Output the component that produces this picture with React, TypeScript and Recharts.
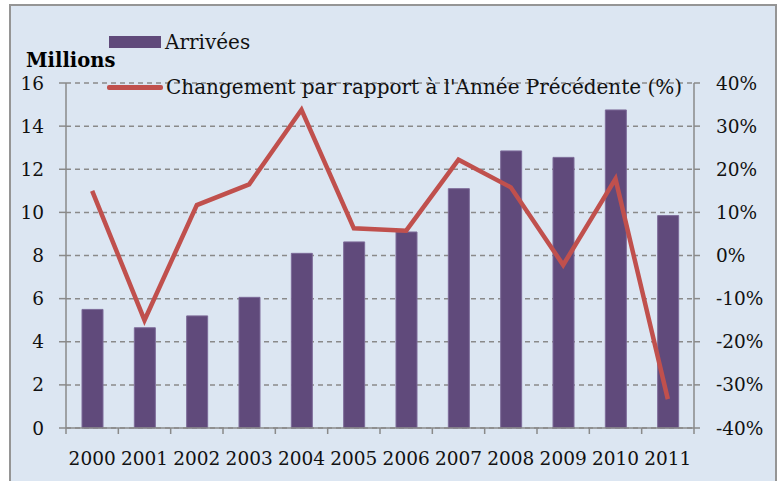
import { ComposedChart, Bar, Line, XAxis, YAxis, CartesianGrid, Legend } from 'recharts'

const years = ['2000', '2001', '2002', '2003', '2004', '2005', '2006', '2007', '2008', '2009', '2010', '2011']
const arrivals = [5.5, 4.65, 5.2, 6.06, 8.1, 8.63, 9.09, 11.1, 12.85, 12.55, 14.75, 9.85]
const changePct = [15.0, -15.0, 11.7, 16.5, 33.8, 6.3, 5.75, 22.2, 15.8, -2.2, 17.75, -33.3]
const leftTicks = [0, 2, 4, 6, 8, 10, 12, 14, 16]
const rightTicks = [-40, -30, -20, -10, 0, 10, 20, 30, 40]
const barName = 'Arrivées'
const lineName = "Changement par rapport à l'Année Précédente (%)"
const unitLabel = 'Millions'

const data = years.map((year, i) => ({ year, arrivals: arrivals[i], change: changePct[i] }))

const W = 780
const H = 481
const PLOT_LEFT = 66
const PLOT_RIGHT = 694
const FONT = '"DejaVu Serif", serif'
const AXIS = '#8a8a8a'
const PURPLE = '#604a7b'
const RED = '#c0504d'

const X_TICK_LEN = 6
const X_TICK_GAP = 18

function YearTick(props: any) {
  const { x, y, payload, index } = props
  const half = (PLOT_RIGHT - PLOT_LEFT) / years.length / 2
  const top = y - X_TICK_GAP - X_TICK_LEN
  return (
    <g>
      <line x1={x - half} x2={x - half} y1={top} y2={top + X_TICK_LEN} stroke={AXIS} strokeWidth={1.5} />
      {index === years.length - 1 && (
        <line x1={x + half} x2={x + half} y1={top} y2={top + X_TICK_LEN} stroke={AXIS} strokeWidth={1.5} />
      )}
      <text x={x} y={y} dy="0.71em" textAnchor="middle" fontFamily={FONT} fontSize={18.5} fill="#111">
        {payload.value}
      </text>
    </g>
  )
}

function LegendBox() {
  const text = { position: 'absolute' as const, fontFamily: FONT, fontSize: 20, lineHeight: '20px', color: '#111', whiteSpace: 'nowrap' as const }
  return (
    <div style={{ position: 'relative', width: W, height: 100 }}>
      <div style={{ position: 'absolute', left: 109, top: 36, width: 52, height: 12, background: PURPLE }} />
      <div style={{ ...text, left: 165, top: 32 }}>{barName}</div>
      <div style={{ position: 'absolute', left: 107, top: 85, width: 56, height: 4.5, borderRadius: 2, background: RED }} />
      <div style={{ ...text, left: 166, top: 77 }}>{lineName}</div>
    </div>
  )
}

export default function App() {
  return (
    <div style={{ position: 'absolute', left: 0, top: 0, width: W, height: H, overflow: 'hidden', background: '#fff' }}>
      <div
        style={{
          position: 'absolute',
          left: 9,
          top: 4,
          width: 764,
          height: 500,
          border: '2px solid #959595',
          background: '#dce6f2',
        }}
      />
      <div style={{ position: 'absolute', left: 0, top: 0 }}>
        <ComposedChart width={W} height={H} data={data} margin={{ top: 83, right: 0, bottom: 0, left: 0 }}>
          <CartesianGrid yAxisId="left" vertical={false} stroke={AXIS} strokeWidth={1.5} strokeDasharray="5 4" />
          <XAxis
            dataKey="year"
            height={53}
            tickLine={false}
            tickSize={X_TICK_LEN}
            tickMargin={X_TICK_GAP}
            axisLine={{ stroke: AXIS, strokeWidth: 1.5 }}
            tick={<YearTick />}
            interval={0}
          />
          <YAxis
            yAxisId="left"
            width={66}
            domain={[0, 16]}
            ticks={leftTicks}
            interval={0}
            tickSize={7}
            tickMargin={15}
            tickLine={{ stroke: AXIS, strokeWidth: 1.5 }}
            axisLine={{ stroke: AXIS, strokeWidth: 1.5 }}
            tick={{ fontFamily: FONT, fontSize: 18.5, fill: '#111' }}
            label={{
              value: unitLabel,
              content: (p: any) => (
                <text x={26} y={66.5} fontFamily={FONT} fontSize={19.5} fontWeight="bold" fill="#000">
                  {p.value}
                </text>
              ),
            }}
          />
          <YAxis
            yAxisId="right"
            orientation="right"
            width={86}
            domain={[-40, 40]}
            ticks={rightTicks}
            interval={0}
            tickSize={6}
            tickMargin={16}
            tickFormatter={(v: number) => `${v}%`}
            tickLine={{ stroke: AXIS, strokeWidth: 1.5 }}
            axisLine={{ stroke: AXIS, strokeWidth: 1.5 }}
            tick={{ fontFamily: FONT, fontSize: 18.5, fill: '#111', textAnchor: 'start' }}
          />
          <Legend
            verticalAlign="middle"
            align="center"
            layout="horizontal"
            wrapperStyle={{ top: 0, left: 0, width: W, height: 100 }}
            content={() => <LegendBox />}
          />
          <Bar
            yAxisId="left"
            dataKey="arrivals"
            name={barName}
            barSize={21}
            fill={PURPLE}
            stroke="#7d6b99"
            strokeWidth={1}
            isAnimationActive={false}
          />
          <Line
            yAxisId="right"
            dataKey="change"
            name={lineName}
            type="linear"
            stroke={RED}
            strokeWidth={4.5}
            dot={false}
            activeDot={false}
            isAnimationActive={false}
          />
        </ComposedChart>
      </div>
    </div>
  )
}
